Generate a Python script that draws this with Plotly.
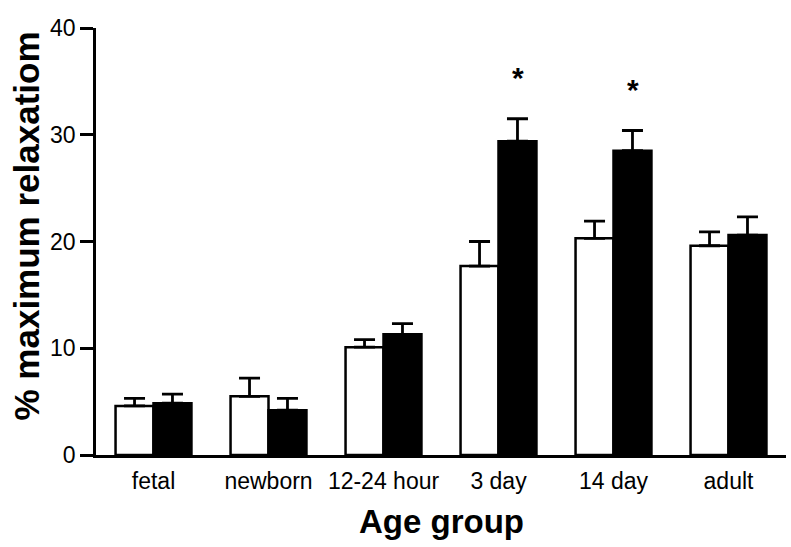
import plotly.graph_objects as go

categories = ["fetal", "newborn", "12-24 hour", "3 day", "14 day", "adult"]
open_values = [4.6, 5.5, 10.1, 17.7, 20.3, 19.6]
open_err_top = [5.3, 7.2, 10.8, 20.0, 21.9, 20.9]
filled_values = [4.85, 4.2, 11.3, 29.4, 28.5, 20.6]
filled_err_top = [5.7, 5.3, 12.3, 31.5, 30.4, 22.3]
significant = ["3 day", "14 day"]
y_ticks = [0, 10, 20, 30, 40]

FONT = "Liberation Sans, Arial, sans-serif"

open_err = [t - v for t, v in zip(open_err_top, open_values)]
filled_err = [t - v for t, v in zip(filled_err_top, filled_values)]

fig = go.Figure()
fig.add_trace(go.Bar(
    x=categories, y=open_values, name="open",
    marker=dict(color="white", line=dict(color="black", width=2.5)),
    error_y=dict(type="data", array=open_err, arrayminus=[0]*len(open_err),
                 symmetric=False, color="black", thickness=2.8, width=10.5),
))
fig.add_trace(go.Bar(
    x=categories, y=filled_values, name="filled",
    marker=dict(color="black", line=dict(color="black", width=2.5)),
    error_y=dict(type="data", array=filled_err, arrayminus=[0]*len(filled_err),
                 symmetric=False, color="black", thickness=2.8, width=10.5),
))

for cat in significant:
    i = categories.index(cat)
    fig.add_annotation(x=cat, y=filled_err_top[i] + 4.1, text="<b>*</b>",
                       showarrow=False, xshift=19.5, yshift=-3,
                       font=dict(family=FONT, size=30, color="black"))

# axis titles as annotations for precise placement
fig.add_annotation(xref="paper", yref="paper", x=0.5, y=0, yshift=-66,
                   text="<b>Age group</b>", showarrow=False, xanchor="center",
                   yanchor="middle", font=dict(family=FONT, size=33, color="black"))
fig.add_annotation(xref="paper", yref="paper", x=0, xshift=-70, y=0.5, yshift=15,
                   text="<b>% maximum relaxatiom</b>", showarrow=False, textangle=-90,
                   xanchor="center", yanchor="middle",
                   font=dict(family=FONT, size=35, color="black"))

fig.update_layout(
    width=791, height=547,
    margin=dict(l=96, r=5, t=28, b=92),
    paper_bgcolor="white", plot_bgcolor="white",
    barmode="group", bargap=0.34, bargroupgap=0,
    showlegend=False,
    font=dict(family=FONT, color="black"),
)
fig.update_xaxes(
    showline=True, linecolor="black", linewidth=2.5,
    ticks="", showgrid=False, zeroline=False,
    tickfont=dict(family=FONT, size=23, color="black"),
    ticklabelstandoff=4,
    range=[-0.5, 5.5],
)
fig.update_yaxes(
    range=[0, 40], tickvals=y_ticks,
    showline=True, linecolor="black", linewidth=2.5,
    ticks="outside", ticklen=13, tickwidth=2.5, tickcolor="black",
    showgrid=False, zeroline=False,
    tickfont=dict(family=FONT, size=23, color="black"),
)

fig.write_html("out.html",
               config={"displayModeBar": False},
               post_script="document.body.style.margin='0';document.body.style.overflow='hidden';")
